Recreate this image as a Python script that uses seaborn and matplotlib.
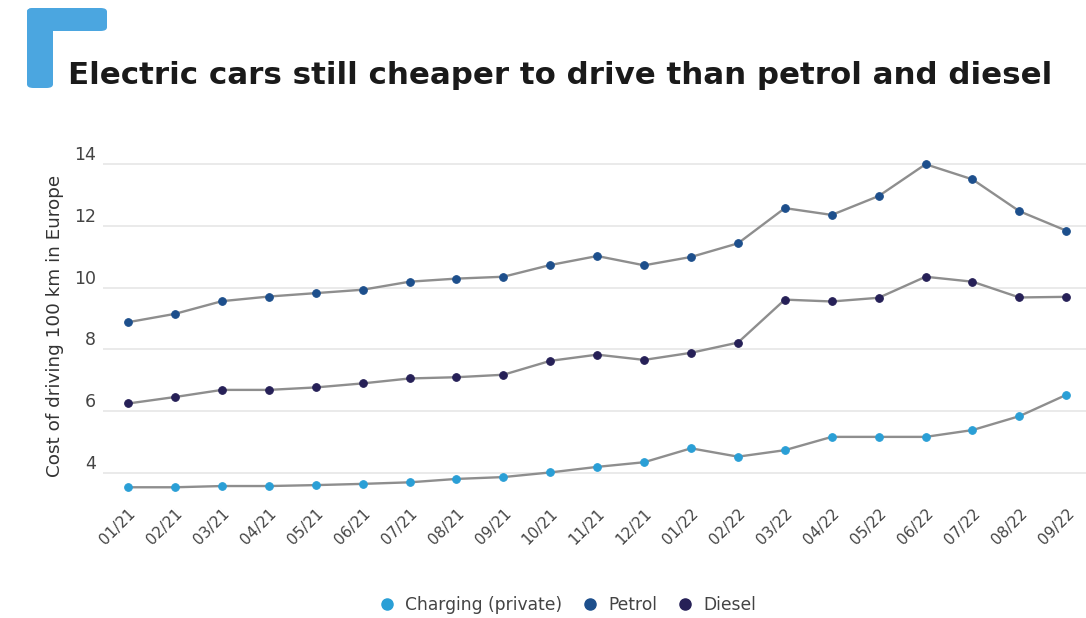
import matplotlib
matplotlib.use("Agg")
import matplotlib.pyplot as plt
from matplotlib.patches import FancyBboxPatch
from matplotlib.lines import Line2D
import seaborn as sns
import pandas as pd

months = ["01/21", "02/21", "03/21", "04/21", "05/21", "06/21", "07/21", "08/21", "09/21",
          "10/21", "11/21", "12/21", "01/22", "02/22", "03/22", "04/22", "05/22", "06/22",
          "07/22", "08/22", "09/22"]
petrol = [8.88, 9.15, 9.56, 9.71, 9.82, 9.93, 10.19, 10.29, 10.35, 10.73, 11.02, 10.72,
          10.99, 11.43, 12.57, 12.35, 12.96, 13.99, 13.50, 12.47, 11.84]
diesel = [6.25, 6.46, 6.69, 6.69, 6.77, 6.90, 7.06, 7.10, 7.18, 7.63, 7.83, 7.66,
          7.89, 8.22, 9.61, 9.55, 9.67, 10.35, 10.19, 9.68, 9.70]
charging = [3.54, 3.54, 3.58, 3.58, 3.61, 3.65, 3.70, 3.81, 3.87, 4.02, 4.20, 4.35,
            4.80, 4.53, 4.74, 5.17, 5.17, 5.17, 5.39, 5.84, 6.53]
series_names = ["Charging (private)", "Petrol", "Diesel"]
marker_colors = ["#2a9fd6", "#1d4f8c", "#262057"]
line_color = "#8e8e8e"

sns.set_theme(style="white")
plt.rcParams['font.family'] = ['DejaVu Sans']

fig = plt.figure(figsize=(10.86, 6.18), dpi=100)
W, H = 1086, 618
ax = fig.add_axes([103 / W, 1 - 495 / H, (1086 - 103) / W, (495 - 150) / H])

x = list(range(len(months)))
for name, vals, mc in zip(series_names, [charging, petrol, diesel], marker_colors):
    df = pd.DataFrame({"x": x, "y": vals})
    sns.lineplot(data=df, x="x", y="y", ax=ax, color=line_color, linewidth=1.7,
                 marker="o", markersize=5.5, markerfacecolor=mc, markeredgecolor=mc,
                 zorder=3)

ax.set_xlim(-0.536, 20.42)
ax.set_ylim(3.29, 14.45)
ax.set_yticks([4, 6, 8, 10, 12, 14])
ax.set_xticks(x)
ax.set_xticklabels(months, rotation=45, ha="right", rotation_mode="anchor",
                   fontsize=11, color="#444444")
ax.tick_params(axis="x", length=0, pad=8)
ax.tick_params(axis="y", length=0, pad=5, labelsize=12.5, labelcolor="#444444")
for lbl in ax.get_yticklabels():
    lbl.set_verticalalignment("bottom")
ax.yaxis.grid(True, color="#e6e6e6", linewidth=1.2)
ax.xaxis.grid(False)
for s in ax.spines.values():
    s.set_visible(False)
ax.set_xlabel("")
ax.set_ylabel("Cost of driving 100 km in Europe", fontsize=13.2, color="#333333")
ax.yaxis.set_label_coords(-0.040, 0.49)

# corner decoration
fc = "#4ba6e0"
fig.patches.append(FancyBboxPatch((27 / W, 1 - 31 / H), 80 / W, 23 / H,
                                  boxstyle="round,pad=0,rounding_size=0.006",
                                  transform=fig.transFigure, facecolor=fc, edgecolor="none"))
fig.patches.append(FancyBboxPatch((27 / W, 1 - 88 / H), 26 / W, 80 / H,
                                  boxstyle="round,pad=0,rounding_size=0.006",
                                  transform=fig.transFigure, facecolor=fc, edgecolor="none"))

fig.text(68 / W, 1 - 84 / H, "Electric cars still cheaper to drive than petrol and diesel",
         fontsize=22.2, fontweight="bold", color="#1a1a1a", va="baseline", ha="left")

handles = [Line2D([], [], linestyle="none", marker="o", markersize=8,
                  markerfacecolor=c, markeredgecolor=c) for c in marker_colors]
fig.legend(handles, series_names, loc="center", bbox_to_anchor=(563 / W, 1 - 605 / H),
           ncol=3, frameon=False, fontsize=12.3, handletextpad=0.1, columnspacing=0.6,
           labelcolor="#444444")

fig.savefig("out.png", dpi=100)
